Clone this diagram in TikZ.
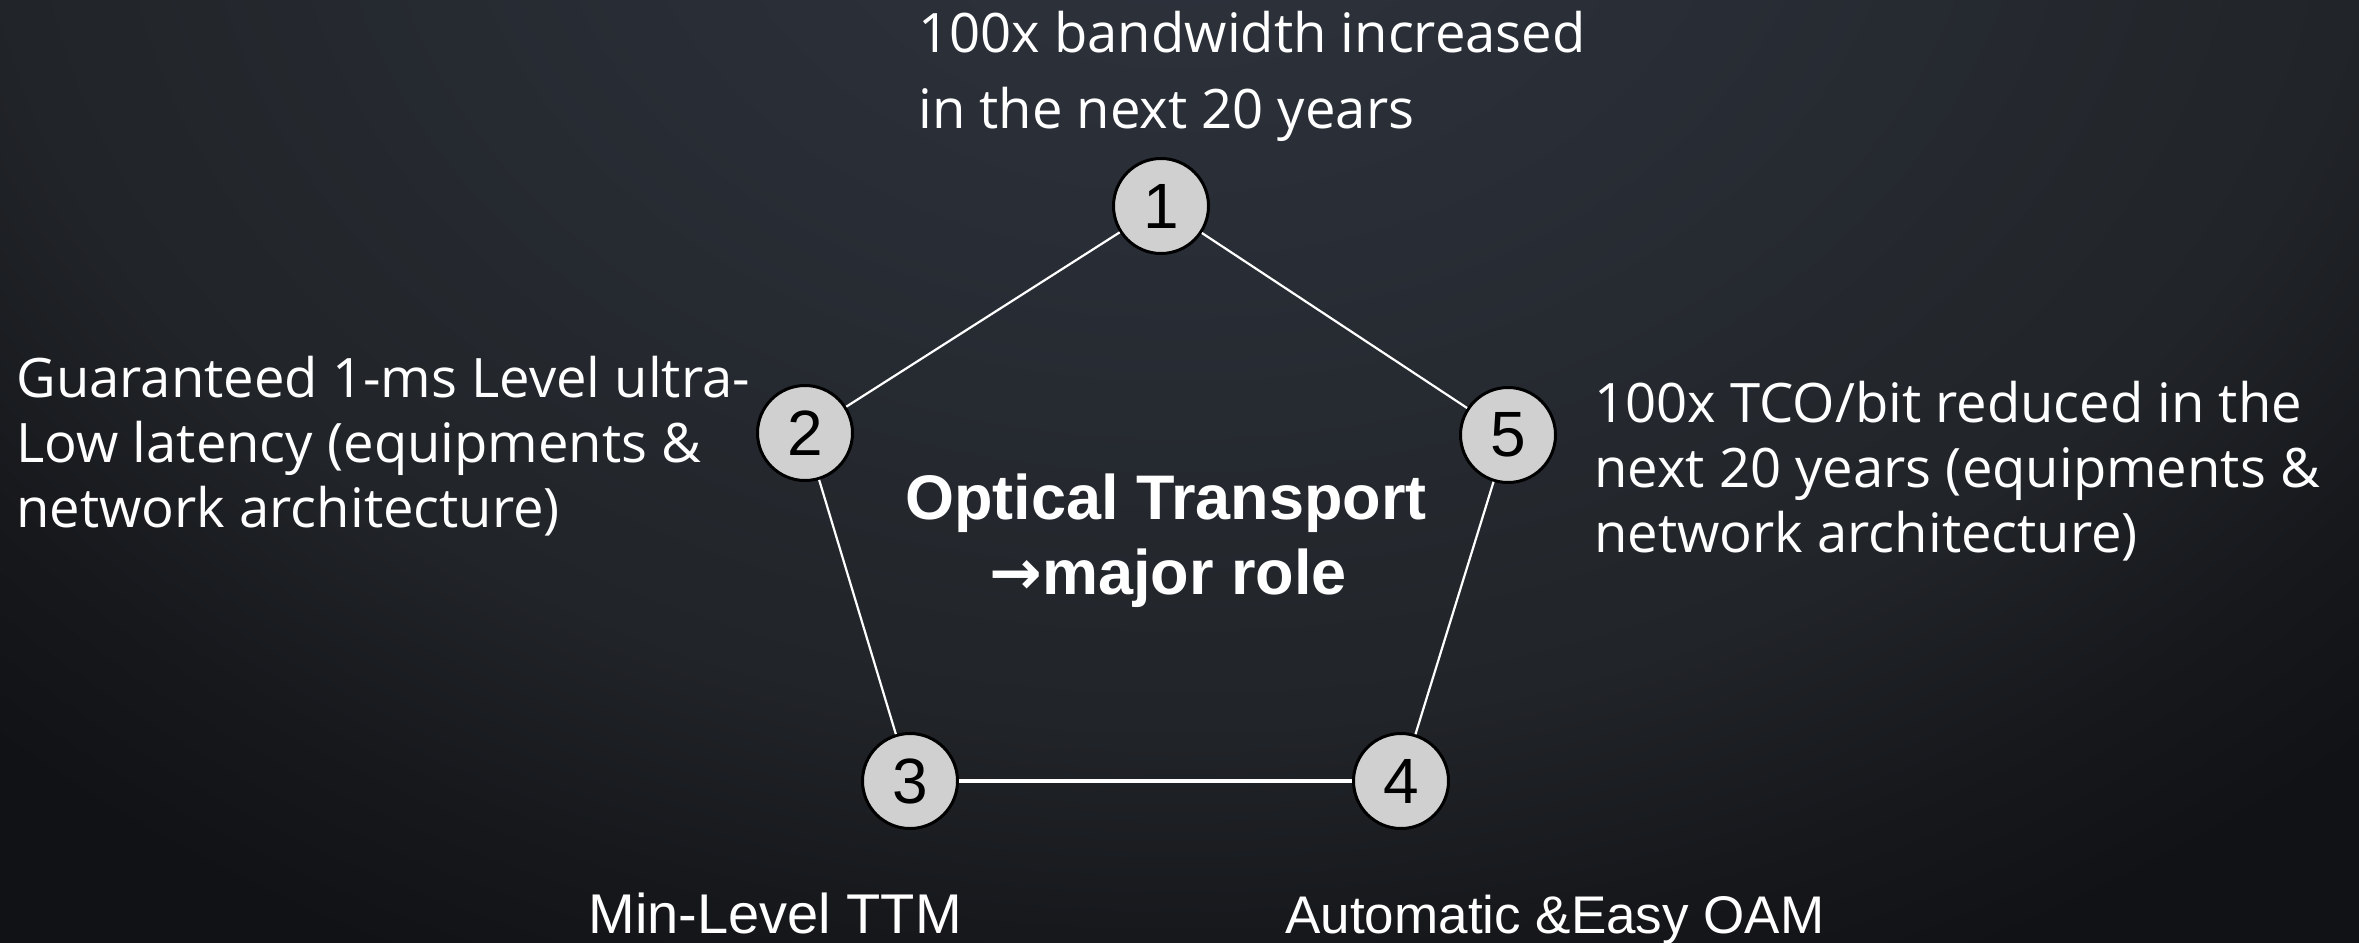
\documentclass[tikz,border=0pt]{standalone}
\usepackage{fontspec}
\setmainfont{Open Sans}
\newfontfamily\arialfont{Liberation Sans}
\newfontfamily\arrowfont{DejaVu Sans}
\definecolor{bgA}{HTML}{2D323C}
\definecolor{bgB}{HTML}{282D35}
\definecolor{bgC}{HTML}{212428}
\definecolor{bgD}{HTML}{16181C}
\definecolor{bgE}{HTML}{101215}
\definecolor{discfill}{HTML}{D0D0D0}
\pgfdeclareradialshading{bgglow}{\pgfpoint{0bp}{0bp}}{%
  color(0bp)=(bgA); color(8.75bp)=(bgB); color(17.5bp)=(bgC);
  color(21.75bp)=(bgD); color(25bp)=(bgE); color(50bp)=(bgE)}
\tikzset{
  disc/.style={circle, draw=black, line width=1.5pt, fill=discfill,
    minimum size=47.5pt, inner sep=0pt, text=black,
    font=\arialfont\fontsize{32}{32}\selectfont},
  lbl/.style={anchor=base west, inner sep=0pt, text=white,
    font=\fontsize{27.2}{32}\selectfont},
  lblsans/.style={anchor=base west, inner sep=0pt, text=white},
  title/.style={anchor=base, inner sep=0pt, text=white,
    font=\arialfont\bfseries\fontsize{31.5}{32}\selectfont},
  edge/.style={draw=white, line width=1.1pt},
}
\begin{document}
\begin{tikzpicture}[x=0.5pt, y=-0.5pt]
  % background
  \useasboundingbox (0,0) rectangle (2359,942);
  \begin{scope}
    \clip (-6,-6) rectangle (2365,948);
    \fill[bgE] (-6,-6) rectangle (2365,948);
    \shade[shading=bgglow] (1180,-150) ellipse [x radius=850pt, y radius=625pt];
  \end{scope}

  % numbered discs
  \node[disc] (n1) at (1161,206) {1};
  \node[disc] (n2) at (805,433) {2};
  \node[disc] (n3) at (910,781) {3};
  \node[disc] (n4) at (1401,781) {4};
  \node[disc] (n5) at (1508,435) {5};

  % pentagon sides
  \draw[edge] (n1) -- (n2);
  \draw[edge] (n2) -- (n3);
  \draw[edge, line width=1.6pt] (n3) -- (n4);
  \draw[edge] (n4) -- (n5);
  \draw[edge] (n5) -- (n1);

  % centre caption
  \node[title] (c1) at (1166,519) {Optical Transport};
  \node[title] (c2) at (1168,594) {{\arrowfont\bfseries →}major role};

  % labels
  \node[lbl] (t1a) at (918,52) {100x bandwidth increased};
  \node[lbl] (t1b) at (918,128) {in the next 20 years};

  \node[lbl] (t2a) at (16,397) {Guaranteed 1-ms Level ultra-};
  \node[lbl] (t2b) at (16,462) {Low latency (equipments \&};
  \node[lbl] (t2c) at (16,527) {network architecture)};

  \node[lbl] (t5a) at (1594,422) {100x TCO/bit reduced in the};
  \node[lbl] (t5b) at (1594,487) {next 20 years (equipments \&};
  \node[lbl] (t5c) at (1594,552) {network architecture)};

  \node[lblsans, font=\arialfont\fontsize{28}{28}\selectfont] (t3) at (588,933) {Min-Level TTM};
  \node[lblsans, font=\arialfont\fontsize{26.5}{28}\selectfont] (t4) at (1285,933) {Automatic \&Easy OAM};
\end{tikzpicture}
\end{document}
